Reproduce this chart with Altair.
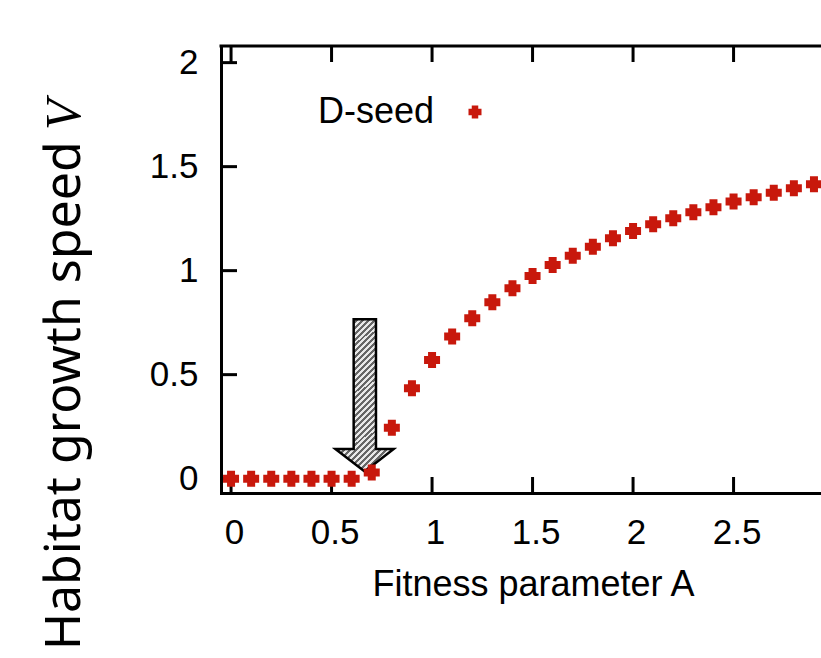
import altair as alt
import pandas as pd

# ---------------- data ----------------
A_values = [0.0, 0.1, 0.2, 0.3, 0.4, 0.5, 0.6, 0.7, 0.8, 0.9,
            1.0, 1.1, 1.2, 1.3, 1.4, 1.5, 1.6, 1.7, 1.8, 1.9,
            2.0, 2.1, 2.2, 2.3, 2.4, 2.5, 2.6, 2.7, 2.8, 2.9]
V_values = [0.0, 0.0, 0.0, 0.0, 0.0, 0.0, 0.0, 0.03, 0.245, 0.435,
            0.571, 0.683, 0.771, 0.848, 0.915, 0.974, 1.027, 1.072, 1.115, 1.156,
            1.191, 1.223, 1.252, 1.281, 1.305, 1.332, 1.353, 1.375, 1.396, 1.415]
x_ticks = [0, 0.5, 1, 1.5, 2, 2.5]
y_ticks = [0, 0.5, 1, 1.5, 2]
series_name = "D-seed"
x_title = "Fitness parameter A"
y_title_main = "Habitat growth speed"
y_title_var = "V"
# annotation arrow outline (data coordinates), pointing down at the threshold
arrow_x = [0.665, 0.809, 0.721, 0.721, 0.610, 0.610, 0.519, 0.665]
arrow_y = [0.034, 0.143, 0.143, 0.766, 0.766, 0.143, 0.143, 0.034]

# ---------------- style ----------------
W, H = 600, 447
RED = "#c8180c"
FONT = "Liberation Sans"
FS = 35
PLUS = ("M-1,-0.5L-0.5,-0.5L-0.5,-1L0.5,-1L0.5,-0.5L1,-0.5L1,0.5L0.5,0.5"
        "L0.5,1L-0.5,1L-0.5,0.5L-1,0.5Z")

df = pd.DataFrame({"A": A_values, "V": V_values})
xt = pd.DataFrame({"t": x_ticks})
yt = pd.DataFrame({"t": y_ticks})
arrow_df = pd.DataFrame({"x": arrow_x, "y": arrow_y, "i": list(range(len(arrow_x)))})
one = pd.DataFrame({"k": [0]})

xs = alt.Scale(domain=[-0.05, 2.935], nice=False, zero=False)
ys = alt.Scale(domain=[-0.069, 2.08], nice=False, zero=False)

x_axis = alt.Axis(values=x_ticks, format="~g", title=x_title,
                  titleFont=FONT, titleFontSize=36, titleFontWeight="normal",
                  titleColor="black", titleX=312, titleY=102,
                  titleBaseline="alphabetic", titleAlign="center", titleAngle=0,
                  labelFont=FONT, labelFontSize=FS, labelColor="black",
                  labelPadding=22, labelOffset=3, labelFlush=False, labelOverlap=False,
                  ticks=False, tickSize=0, grid=False,
                  domainColor="black", domainWidth=3, domainCap="square")
y_axis = alt.Axis(values=y_ticks, format="~g", title=None,
                  labelFont=FONT, labelFontSize=FS, labelColor="black",
                  labelPadding=23, labelFlush=False, labelOverlap=False,
                  ticks=False, tickSize=0, grid=False,
                  domainColor="black", domainWidth=3, domainCap="square")

# hatched fill for the arrow (diagonal stripes via a striped linear gradient)
stops = []
period = 0.028
n = int(1.0 / period) + 2
for k in range(n):
    t0 = k * period
    t1 = t0 + period * 0.5
    t2 = t0 + period
    for off, col in [(t0, "#e8e8e8"), (t1, "#e8e8e8"), (t1, "#666666"), (t2, "#666666")]:
        if off <= 1.0:
            stops.append({"offset": round(off, 4), "color": col})
hatch = {"gradient": "linear", "x1": 0, "y1": 0, "x2": 0.458, "y2": 1.206, "stops": stops}

# ---------------- layers ----------------
top_border = alt.Chart(one).mark_rule(color="black", strokeWidth=3, strokeCap="square").encode(
    x=alt.value(0), x2=alt.value(W), y=alt.value(0))

bottom_ticks = alt.Chart(xt).mark_rule(color="black", strokeWidth=3).encode(
    x=alt.X("t:Q", scale=xs, axis=x_axis), y=alt.value(H), y2=alt.value(H - 16))
top_ticks = alt.Chart(xt).mark_rule(color="black", strokeWidth=3).encode(
    x=alt.X("t:Q", scale=xs, axis=x_axis), y=alt.value(0), y2=alt.value(16))
left_ticks = alt.Chart(yt).mark_rule(color="black", strokeWidth=3).encode(
    y=alt.Y("t:Q", scale=ys, axis=y_axis), x=alt.value(0), x2=alt.value(16))

arrow = alt.Chart(arrow_df).mark_line(fill=hatch, stroke="black", strokeWidth=2.5,
                                      strokeJoin="miter", interpolate="linear").encode(
    x=alt.X("x:Q", scale=xs, axis=x_axis),
    y=alt.Y("y:Q", scale=ys, axis=y_axis),
    order=alt.Order("i:Q"))

points = alt.Chart(df).mark_point(shape=PLUS, filled=True, size=256, color=RED,
                                  opacity=1, strokeWidth=0).encode(
    x=alt.X("A:Q", scale=xs, axis=x_axis),
    y=alt.Y("V:Q", scale=ys, axis=y_axis))

legend_text = alt.Chart(pd.DataFrame({"t": [series_name]})).mark_text(
    font=FONT, fontSize=36, color="black", align="right", baseline="alphabetic").encode(
    text="t:N", x=alt.value(213), y=alt.value(77))
legend_mark = alt.Chart(one).mark_point(shape=PLUS, filled=True, size=169, color=RED,
                                        opacity=1, strokeWidth=0).encode(
    x=alt.value(254), y=alt.value(66))

ytitle_main = alt.Chart(pd.DataFrame({"t": [y_title_main]})).mark_text(
    font="Noto Sans", fontSize=50, color="black", angle=270, align="left",
    baseline="alphabetic").encode(text="t:N", x=alt.value(-141), y=alt.value(604))
ytitle_var = alt.Chart(pd.DataFrame({"t": [y_title_var]})).mark_text(
    font="Liberation Serif", fontStyle="italic", fontSize=50, color="black", angle=270,
    align="left", baseline="alphabetic").encode(text="t:N", x=alt.value(-141), y=alt.value(84))

chart = alt.layer(
    top_border, bottom_ticks, top_ticks, left_ticks, arrow, points,
    legend_text, legend_mark, ytitle_main, ytitle_var
).properties(
    width=W, height=H,
    autosize=alt.AutoSizeParams(type="none"),
    padding={"left": 221, "top": 46, "right": 0, "bottom": 165},
    background="white",
).configure_view(stroke=None)

chart.save("out.html", embed_options={"renderer": "svg", "actions": False})
